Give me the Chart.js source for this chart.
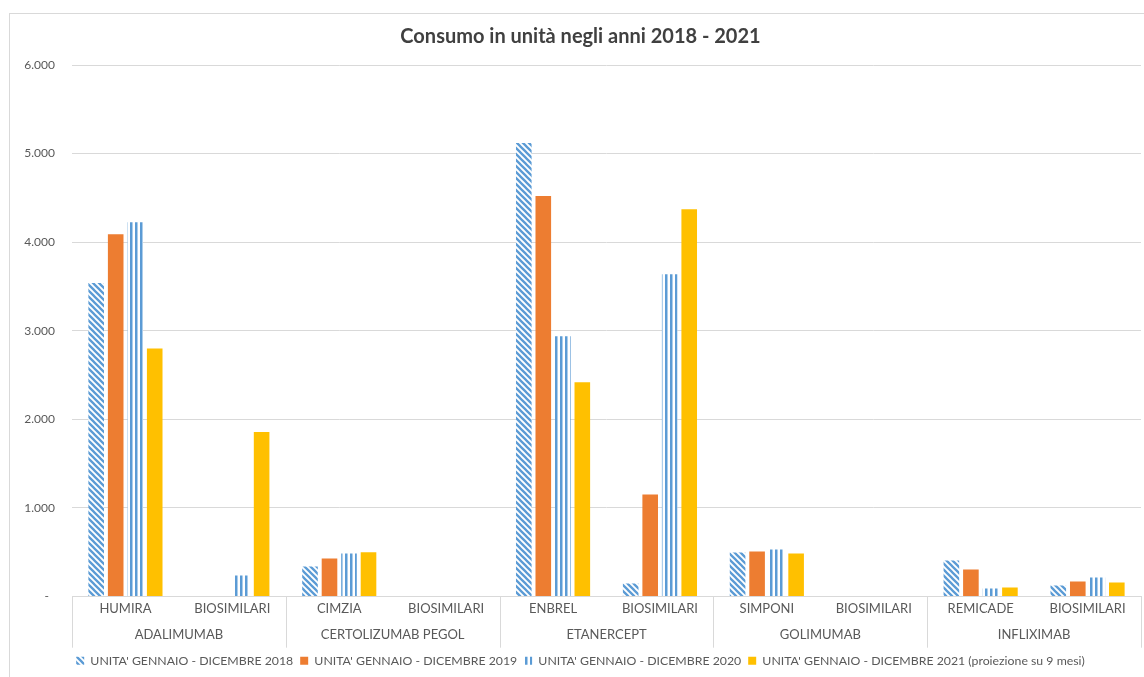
<!DOCTYPE html>
<html>
<head>
<meta charset="utf-8">
<script src="https://cdn.jsdelivr.net/npm/chart.js@4/dist/chart.umd.min.js"></script>
<style>
    body { margin: 0; background: #fff; }
    #box { position: absolute; left: 9px; top: 13px; width: 1140px; height: 680px; border: 1px solid #d9d9d9; }
</style>
</head>
<body>
<div id="box"><canvas id="chart" width="1134" height="663"></canvas></div>
<script>
    const products = ['HUMIRA', 'BIOSIMILARI', 'CIMZIA', 'BIOSIMILARI', 'ENBREL', 'BIOSIMILARI', 'SIMPONI', 'BIOSIMILARI', 'REMICADE', 'BIOSIMILARI'];
    const molecules = ['ADALIMUMAB', 'CERTOLIZUMAB PEGOL', 'ETANERCEPT', 'GOLIMUMAB', 'INFLIXIMAB'];
    const seriesNames = [
        "UNITA' GENNAIO - DICEMBRE 2018",
        "UNITA' GENNAIO - DICEMBRE 2019",
        "UNITA' GENNAIO - DICEMBRE 2020",
        "UNITA' GENNAIO - DICEMBRE 2021 (proiezione su 9 mesi)"
    ];
    const units2018 = [3540, 0, 340, 0, 5120, 147, 497, 0, 407, 124];
    const units2019 = [4090, 0, 430, 0, 4520, 1152, 508, 0, 305, 169];
    const units2020 = [4225, 237, 486, 0, 2938, 3638, 531, 0, 90, 215];
    const units2021 = [2800, 1856, 500, 0, 2418, 4373, 486, 0, 102, 158];
    const yTicks = [0, 1000, 2000, 3000, 4000, 5000, 6000];

    const blue = '#5b9bd5';
    const orange = '#ed7d31';
    const yellow = '#ffc000';
    const textColor = '#595959';
    const gridColor = '#d9d9d9';

    // pattern a strisce diagonali (2018)
    const diagPattern = () => {
        const c = document.createElement('canvas');
        c.width = 6; c.height = 6;
        const g = c.getContext('2d');
        g.fillStyle = '#fff';
        g.fillRect(0, 0, 6, 6);
        g.strokeStyle = blue;
        g.lineWidth = 2.3;
        g.beginPath();
        g.moveTo(-3, -3); g.lineTo(9, 9);
        g.moveTo(-3, 3); g.lineTo(3, 9);
        g.moveTo(3, -3); g.lineTo(9, 3);
        g.stroke();
        return c.getContext('2d').createPattern(c, 'repeat');
    };

    // pattern a strisce verticali (2020)
    const vertPattern = () => {
        const c = document.createElement('canvas');
        c.width = 5; c.height = 5;
        const g = c.getContext('2d');
        g.fillStyle = '#fff';
        g.fillRect(0, 0, 5, 5);
        g.fillStyle = blue;
        g.fillRect(0, 0, 2.5, 5);
        return c.getContext('2d').createPattern(c, 'repeat');
    };

    const formatIt = (v) => {
        if (v === 0) return '-  ';
        return String(v).replace(/\B(?=(\d{3})+(?!\d))/g, '.');
    };

    // linee verticali tra i gruppi, su entrambe le righe di etichette
    const groupLines = {
        id: 'groupLines',
        afterDraw(chart) {
            const xs = chart.scales.x;
            const x2 = chart.scales.x2;
            const ctx = chart.ctx;
            const step = (xs.right - xs.left) / products.length;
            ctx.save();
            ctx.strokeStyle = gridColor;
            ctx.lineWidth = 1;
            for (let g = 0; g <= molecules.length; g++) {
                const px = Math.round(xs.left + g * 2 * step) + 0.5;
                ctx.beginPath();
                ctx.moveTo(px, xs.top);
                ctx.lineTo(px, x2.bottom);
                ctx.stroke();
            }
            ctx.restore();
        }
    };

    const datasets = [
        { label: seriesNames[0], data: units2018, backgroundColor: diagPattern() },
        { label: seriesNames[1], data: units2019, backgroundColor: orange },
        { label: seriesNames[2], data: units2020, backgroundColor: vertPattern() },
        { label: seriesNames[3], data: units2021, backgroundColor: yellow }
    ];

    new Chart(document.getElementById('chart'), {
        type: 'bar',
        data: { labels: products, datasets: datasets },
        plugins: [groupLines],
        options: {
            responsive: false,
            animation: false,
            events: [],
            layout: { padding: { top: 2, left: 10, right: 3, bottom: 0 } },
            datasets: { bar: { categoryPercentage: 0.73, barPercentage: 0.8 } },
            plugins: {
                title: {
                    display: true,
                    text: 'Consumo in unità negli anni 2018 - 2021',
                    color: '#404040',
                    font: { family: 'Lato', size: 20, weight: 'bold' },
                    padding: { top: 9, bottom: 16 }
                },
                legend: {
                    position: 'bottom',
                    labels: {
                        color: textColor,
                        font: { family: 'Lato', size: 12.3 },
                        boxWidth: 8,
                        boxHeight: 8,
                        padding: 7
                    }
                },
                tooltip: { enabled: false }
            },
            scales: {
                x: {
                    grid: { display: false, drawTicks: false },
                    border: { display: true, color: gridColor },
                    ticks: { color: textColor, font: { family: 'Lato', size: 13 }, padding: 5, maxRotation: 0, autoSkip: false }
                },
                x2: {
                    type: 'category',
                    position: 'bottom',
                    labels: molecules,
                    offset: true,
                    grid: { display: false, drawTicks: false },
                    border: { display: false },
                    ticks: { color: textColor, font: { family: 'Lato', size: 13 }, padding: 5, maxRotation: 0, autoSkip: false }
                },
                y: {
                    min: 0,
                    max: 6000,
                    afterBuildTicks: (s) => { s.ticks = yTicks.map(v => ({ value: v })); },
                    afterFit: (s) => { s.width = 52; },
                    grid: { color: gridColor, drawTicks: false },
                    border: { display: false },
                    ticks: { color: textColor, font: { family: 'Lato', size: 12 }, padding: 17, callback: formatIt }
                }
            }
        }
    });
</script>
</body>
</html>
